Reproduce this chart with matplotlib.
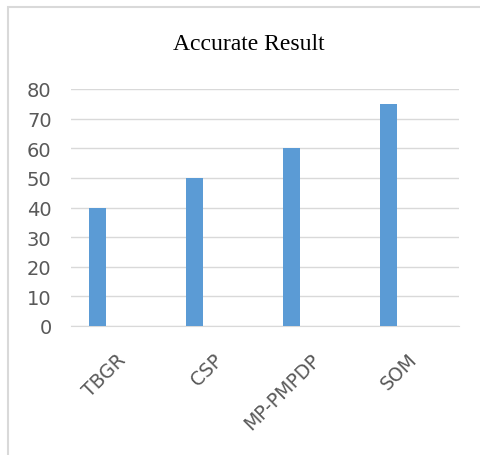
import matplotlib
matplotlib.use("Agg")
import matplotlib.pyplot as plt
from matplotlib.patches import Rectangle
import numpy as np

categories = ["TBGR", "CSP", "MP-PMPDP", "SOM"]
accuracy = [40, 50, 60, 75]
y_ticks = [0, 10, 20, 30, 40, 50, 60, 70, 80]

W, H = 481, 456
fig = plt.figure(figsize=(W / 100, H / 100), dpi=100)
fig.patch.set_facecolor("white")

# outer chart frame
fig.patches.append(Rectangle((8 / W, -0.1), 1.2, 1 - 8 / H + 0.1,
                             transform=fig.transFigure, fill=False,
                             edgecolor="#d9d9d9", linewidth=1.5))

ax = fig.add_axes([71 / W, 1 - 327 / H, 388 / W, 237 / H])
x = np.arange(len(categories))
ax.bar(x, accuracy, width=0.175, color="#5b9bd5", zorder=3)

ax.set_ylim(0, 80)
ax.set_xlim(-0.278, 3.722)
ax.set_yticks(y_ticks)
ax.set_yticklabels([str(v) for v in y_ticks], color="#595959",
                   fontsize=14, fontfamily="DejaVu Sans")
ax.tick_params(axis="y", length=0, pad=14)
ax.yaxis.grid(True, color="#d9d9d9", linewidth=1)
ax.set_axisbelow(True)
for s in ["top", "right", "left"]:
    ax.spines[s].set_visible(False)
ax.spines["bottom"].set_color("#d9d9d9")

ax.set_xticks(x + 0.19)
ax.set_xticklabels(categories, rotation=45, ha="right",
                   rotation_mode="anchor", color="#595959", fontsize=13.5,
                   fontfamily="DejaVu Sans")
ax.tick_params(axis="x", length=0, pad=17)

fig.text(249 / W, 1 - 45 / H, "Accurate Result", ha="center", va="center",
         fontsize=17, fontfamily="Liberation Serif", color="#000000")

fig.savefig("out.png", dpi=100)
